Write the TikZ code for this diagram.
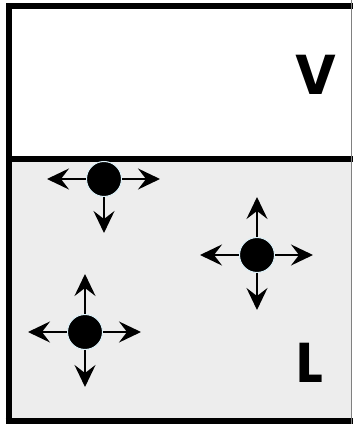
\documentclass[tikz,border=0pt]{standalone}
\usepackage{fontspec}
\newfontfamily\phasefont{Poppins}
\usetikzlibrary{arrows.meta}
\begin{document}
\begin{tikzpicture}[x=1pt, y=1pt,
		molecule/.style={circle, fill=black, draw=cyan!12, line width=1pt, minimum size=35pt, inner sep=0pt},
		vec/.style={-{Stealth[length=22pt, width=21pt, inset=8pt]}, line width=2pt},
		phase/.style={font=\phasefont\bfseries\fontsize{56}{60}\selectfont}]
			\useasboundingbox (0,0) rectangle (353,424);
			\fill[white] (8.5,265) rectangle (351.5,417.5);
			\fill[black!7] (8.5,3) rectangle (351.5,265);
			\draw[line width=6pt] (356,417.5) -- (8.5,417.5) -- (8.5,0) ;
			\draw[line width=6.5pt] (5.5,3) -- (356,3);
			\draw[line width=6pt] (8.5,265) -- (356,265);
			\draw[gray, line width=1pt] (351.5,0) -- (351.5,424);
			\node[phase] (vap) at (316,349) {V};
			\node[phase] (liq) at (310,61) {L};
			% molecule at the surface
			\node[molecule] (m1) at (104,245) {};
			\foreach \d/\dx/\dy in {l/-57/0, r/56/0, d/0/-54} {
				\coordinate (m1\d) at (104+\dx,245+\dy);
				\draw[vec] (m1) -- (m1\d);
			}
			% molecules in the bulk
			\foreach \m/\x/\y in {m2/257/169, m3/85/92} {
				\node[molecule] (\m) at (\x,\y) {};
				\foreach \d/\dx/\dy in {l/-57/0, r/56/0, u/0/58, d/0/-55} {
					\coordinate (\m\d) at (\x+\dx,\y+\dy);
					\draw[vec] (\m) -- (\m\d);
				}
			}
		\end{tikzpicture}
\end{document}
